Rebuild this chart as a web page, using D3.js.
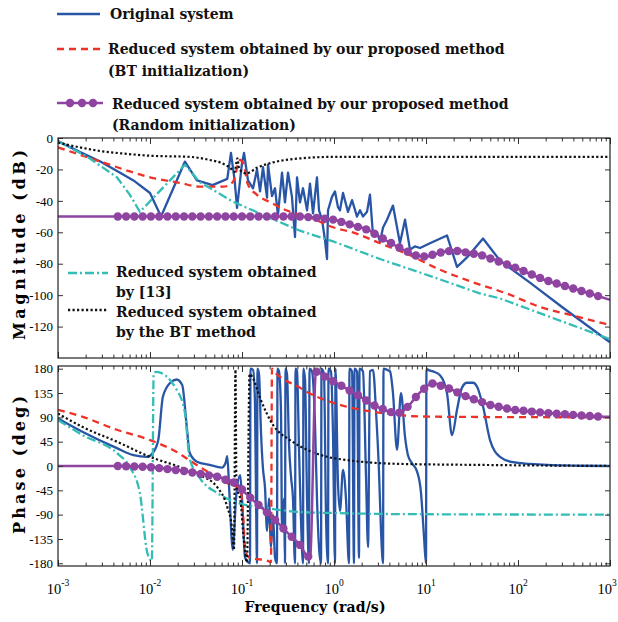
<!DOCTYPE html>
<html>
<head>
<meta charset="utf-8">
<script src="https://cdn.jsdelivr.net/npm/d3@7"></script>
<style>
  body { margin: 0; background: #fff; }
</style>
</head>
<body>
<div id="chart"></div>
<script>
// values: [log10(frequency in rad/s), value]

// magnitude (dB)
var magOriginal = [
  [-3.00,-2],[-2.76,-9],[-2.54,-15],[-2.33,-22],[-2.18,-27],[-2.00,-35],[-1.88,-50],[-1.62,-15],
  [-1.49,-27],[-1.32,-30],[-1.16,-26],[-1.12,-9.5],[-1.08,-27],[-1.054,-44.5],[-1.00,-16],[-0.978,-9.5],
  [-0.935,-27],[-0.88,-32],[-0.837,-20],[-0.804,-34],[-0.772,-18.5],[-0.728,-38],[-0.717,-17],[-0.674,-37],
  [-0.641,-32],[-0.609,-49],[-0.565,-22],[-0.533,-41],[-0.50,-22],[-0.457,-37.5],[-0.424,-63],[-0.402,-25],
  [-0.37,-41],[-0.337,-32],[-0.293,-46],[-0.261,-29],[-0.228,-48],[-0.185,-25],[-0.163,-46],[-0.13,-52],
  [-0.098,-65],[-0.076,-77],[-0.065,-46],[-0.022,-37.5],[0.011,-34],[0.043,-44],[0.065,-46],[0.098,-35],
  [0.152,-47],[0.196,-39.5],[0.25,-50],[0.283,-46],[0.315,-50],[0.359,-47],[0.391,-36],[0.424,-62],
  [0.467,-60],[0.50,-66],[0.533,-57],[0.576,-52],[0.641,-43],[0.717,-67],[0.772,-52],[0.826,-71],
  [0.88,-69],[0.935,-70],[1.043,-67],[1.228,-62],[1.337,-82],[1.446,-76],[1.62,-64],[1.804,-78],
  [2.13,-92],[2.489,-108],[3.00,-130]
];
var magOursBT = [
  [-3.00,-6],[-2.54,-15],[-2.2,-21.6],[-2.0,-25],[-1.67,-28.6],[-1.46,-31],[-1.2,-31],[-1.1,-28],
  [-1.02,-14],[-0.98,-17],[-0.94,-29],[-0.84,-36],[-0.7,-40.7],[-0.52,-46],[-0.24,-51],[-0.05,-56],
  [0.25,-61],[0.5,-67],[0.8,-74],[1.16,-84],[1.5,-91.6],[1.88,-99],[2.24,-107.5],[2.6,-113],[3.0,-119]
];
var magOursRandom = [
  [-3.0,-50],[-0.37,-50],[-0.24,-50.5],[0.0,-52],[0.2,-55.5],[0.37,-58.5],[0.5,-63],[0.75,-71],
  [0.9,-75],[1.0,-75.5],[1.15,-73],[1.3,-71.5],[1.6,-74.5],[1.95,-82],[2.3,-90.5],[2.7,-97.5],[3.0,-103]
];
var magRef13 = [
  [-3.00,-2],[-2.68,-12],[-2.36,-25],[-2.22,-36],[-2.11,-47],[-1.62,-17],[-1.46,-28],[-1.10,-40.5],
  [-0.73,-50],[-0.37,-59],[0.0,-66],[0.5,-77],[1.08,-88.5],[1.59,-99],[1.8,-102],[3.0,-128]
];
var magBT = [
  [-3.00,-3],[-2.76,-6],[-2.54,-8.3],[-2.27,-10],[-2.00,-11.3],[-1.57,-12],[-1.35,-14],[-1.22,-16],
  [-1.13,-19],[-1.08,-21.5],[-1.05,-13],[-1.03,-20],[-0.95,-22.5],[-0.84,-19],[-0.66,-15.5],[-0.37,-13],
  [0.0,-12],[3.0,-12]
];

// phase (deg)
var phOriginal = [
  [-3.00,88],[-2.73,63],[-2.36,33],[-2.18,20],[-2.03,17],[-1.97,24],[-1.91,48],[-1.86,128],[-1.78,154],
  [-1.71,160],[-1.65,150],[-1.60,72],[-1.57,25],[-1.49,8],[-1.35,2],[-1.22,-3],[-1.18,5],[-1.16,18],
  [-1.14,-40],[-1.10,-155],[-1.065,-60],[-1.02,-17],[-1.00,-60],[-0.967,-169],[-0.935,-178],[-0.913,-180],
  [-0.908,180],[-0.880,178],[-0.859,120],[-0.848,-50],[-0.837,-180],[-0.832,180],[-0.815,170],[-0.793,60],
  [-0.772,-5],[-0.750,-40],[-0.728,-120],[-0.707,-60],[-0.685,-150],[-0.663,-90],[-0.641,-170],[-0.620,-180],
  [-0.614,180],[-0.598,175],[-0.576,100],[-0.565,-120],[-0.543,-60],[-0.533,-180],[-0.527,180],[-0.511,170],
  [-0.489,40],[-0.467,-20],[-0.446,-60],[-0.424,-180],[-0.418,180],[-0.402,175],[-0.380,30],[-0.359,-100],
  [-0.337,-180],[-0.332,180],[-0.315,160],[-0.293,-60],[-0.272,-180],[-0.266,180],[-0.239,175],[-0.207,80],
  [-0.185,-60],[-0.163,-150],[-0.141,-180],[-0.136,180],[-0.109,170],[-0.087,-90],[-0.065,-180],[-0.060,180],
  [-0.033,175],[-0.011,60],[0.011,-180],[0.016,180],[0.043,-30],[0.065,-83],[0.098,-7],[0.130,-60],
  [0.163,-180],[0.168,180],[0.196,175],[0.217,-180],[0.223,180],[0.250,175],[0.272,-170],[0.277,180],
  [0.315,175],[0.348,-20],[0.370,-150],[0.391,175],[0.424,178],[0.457,100],[0.489,-10],[0.511,-120],
  [0.533,-180],[0.538,180],[0.576,178],[0.609,175],[0.641,135],[0.685,30],[0.728,135],[0.772,54],
  [0.804,20],[0.848,5],[0.902,-10],[0.946,-50],[0.978,-130],[1.000,-180],[1.005,180],[1.022,178],
  [1.076,175],[1.152,168],[1.228,135],[1.283,57],[1.337,104],[1.391,145],[1.446,154],[1.511,154],
  [1.554,147],[1.620,110],[1.696,48],[1.804,17],[1.946,7],[2.130,4],[2.315,2],[2.674,0.5],[3.000,0]
];
var phOursBT = [
  [-3.00,104],[-2.73,91],[-2.36,67],[-2.00,48],[-1.71,26],[-1.53,6],[-1.35,-13],[-1.16,-32],[-1.02,-42],
  [-0.99,-85],[-0.967,-150],[-0.946,-165],[-0.913,-170],[-0.728,-175],[-0.685,-178],[-0.674,180],[-0.652,175],
  [-0.587,165],[-0.370,145],[-0.293,137],[-0.011,117],[0.359,102],[0.685,95],[0.859,92],[1.261,91],[3.0,90]
];
var phOursRandom = [
  [-3.00,0],[-2.33,0],[-2.00,-2],[-1.64,-9],[-1.27,-20],[-1.05,-33],[-1.02,-40],[-0.913,-58],[-0.663,-96],
  [-0.478,-128],[-0.370,-146],[-0.261,-172],[-0.196,175],[-0.076,163],[0.065,150],[0.250,132],[0.424,113],
  [0.609,100],[0.696,97],[0.793,108],[0.902,130],[1.011,148],[1.076,153],[1.228,145],[1.446,128],[1.696,113],
  [1.946,104],[2.315,98],[2.815,92],[3.0,91]
];
var phRef13 = [
  [-3.00,85],[-2.73,57],[-2.36,24],[-2.22,-2],[-2.11,-50],[-2.03,-160],[-1.98,-176],[-1.96,172],[-1.93,174],
  [-1.71,141],[-1.62,98],[-1.57,15],[-1.46,-22],[-1.27,-50],[-1.05,-68],[-0.73,-78],[-0.37,-85],[0.0,-87],
  [0.72,-89],[3.0,-90]
];
var phBT = [
  [-3.00,97],[-2.73,72],[-2.36,45],[-2.00,17],[-1.64,-4],[-1.46,-17],[-1.27,-39],[-1.16,-76],[-1.11,-113],
  [-1.087,-155],[-1.071,178],[-1.060,-40],[-1.02,-60],[-0.978,-140],[-0.946,-178],[-0.918,170],[-0.880,162],
  [-0.804,126],[-0.663,76],[-0.478,48],[-0.293,30],[-0.076,17],[0.141,11],[0.424,6],[0.685,4],[1.587,2],[3.0,0]
];

// axis ticks and labels
var decades = [-3, -2, -1, 0, 1, 2, 3];
var magTicks = [0, -20, -40, -60, -80, -100, -120];
var phTicks = [180, 135, 90, 45, 0, -45, -90, -135, -180];

var legendTop = ["Original system",
  "Reduced system obtained by our proposed method", "(BT initialization)",
  "Reduced system obtained by our proposed method", "(Random initialization)"];
var legendInner = ["Reduced system obtained", "by [13]", "Reduced system obtained", "by the BT method"];

window.onload = function () {
  var width = 618, height = 622;
  var left = 58, right = 610;

  var svg = d3.select("#chart").append("svg")
    .attr("width", width)
    .attr("height", height)
    .style("font-family", "'Liberation Serif', serif");

  var x = d3.scaleLog().domain([1e-3, 1e3]).range([left, right]);
  var yMag = d3.scaleLinear().domain([-140, 0]).range([358, 138]);
  var yPh = d3.scaleLinear().domain([-185, 185]).range([566, 366]);

  var colBlue = "#2855a5", colRed = "#ef3228", colPurple = "#8e44a0", colCyan = "#33bdb6", colBlack = "#111";

  var st = {
    orig:   { color: colBlue,   w: 2.3, dash: null },
    bt:     { color: colRed,    w: 2.3, dash: "7,5" },
    rand:   { color: colPurple, w: 2.5, dash: null },
    ref13:  { color: colCyan,   w: 2.3, dash: "9,3,2,3" },
    btm:    { color: colBlack,  w: 2.2, dash: "2.2,2.3" }
  };

  function fx(d) { return x(Math.pow(10, d[0])); }

  // clip regions for the two panels
  var defs = svg.append("defs");
  defs.append("clipPath").attr("id", "clipMag").append("rect")
    .attr("x", left).attr("y", yMag(0)).attr("width", right - left).attr("height", yMag(-140) - yMag(0));
  defs.append("clipPath").attr("id", "clipPh").append("rect")
    .attr("x", left).attr("y", yPh(185)).attr("width", right - left).attr("height", yPh(-185) - yPh(185));

  function plotLine(g, data, y, s, curve) {
    g.append("path")
      .datum(data)
      .attr("d", d3.line().curve(curve).x(fx).y(function (d) { return y(d[1]); }))
      .attr("fill", "none")
      .attr("stroke", s.color)
      .attr("stroke-width", s.w)
      .attr("stroke-dasharray", s.dash)
      .attr("stroke-linejoin", "round");
  }

  // purple markers at equal steps in log frequency
  function plotMarkers(g, data, y) {
    var bis = d3.bisector(function (d) { return d[0]; }).left;
    d3.range(-2.35, 2.9, 0.09).forEach(function (lw) {
      var i = Math.max(1, bis(data, lw));
      var a = data[i - 1], b = data[i];
      if (Math.abs(b[1] - a[1]) > 150) return;   // skip the wrap line
      var t = (lw - a[0]) / (b[0] - a[0]);
      var v = a[1] + t * (b[1] - a[1]);
      g.append("circle")
        .attr("cx", x(Math.pow(10, lw)))
        .attr("cy", y(v))
        .attr("r", 4.2)
        .attr("fill", colPurple);
    });
  }

  function frame(y, yTicks, showX) {
    var top = y.range()[1], bottom = y.range()[0];
    var g = svg.append("g");
    var all = x.ticks();
    var majors = all.filter(function (v) { var l = Math.log10(v); return Math.abs(l - Math.round(l)) < 1e-6; });
    var minors = all.filter(function (v) { var l = Math.log10(v); return Math.abs(l - Math.round(l)) >= 1e-6; });
    var none = function () { return ""; };

    g.append("g").attr("transform", "translate(0," + bottom + ")")
      .call(d3.axisBottom(x).tickValues(majors).tickSizeInner(-6).tickSizeOuter(0).tickFormat(none));
    g.append("g").attr("transform", "translate(0," + bottom + ")")
      .call(d3.axisBottom(x).tickValues(minors).tickSizeInner(-3.5).tickSizeOuter(0).tickFormat(none));
    g.append("g").attr("transform", "translate(0," + top + ")")
      .call(d3.axisTop(x).tickValues(majors).tickSizeInner(-6).tickSizeOuter(0).tickFormat(none));
    g.append("g").attr("transform", "translate(0," + top + ")")
      .call(d3.axisTop(x).tickValues(minors).tickSizeInner(-3.5).tickSizeOuter(0).tickFormat(none));

    g.append("g").attr("transform", "translate(" + left + ",0)")
      .call(d3.axisLeft(y).tickValues(yTicks).tickSizeInner(-5).tickSizeOuter(0).tickPadding(5)
        .tickFormat(function (d) { return d < 0 ? "-" + Math.abs(d) : d; }))
      .selectAll("text").attr("font-size", 13).attr("fill", "#000")
      .attr("font-family", "'Liberation Serif', serif");
    g.append("g").attr("transform", "translate(" + right + ",0)")
      .call(d3.axisRight(y).tickValues(yTicks).tickSizeInner(-5).tickSizeOuter(0).tickFormat(none));

    g.selectAll(".domain").remove();
    g.selectAll(".tick line").attr("stroke", "#333");

    g.append("rect")
      .attr("x", left).attr("y", top)
      .attr("width", right - left).attr("height", bottom - top)
      .attr("fill", "none").attr("stroke", "#222").attr("stroke-width", 1.2);

    if (showX) {
      var lab = g.append("g").selectAll("text").data(decades).enter().append("text")
        .attr("x", function (d, i) { return x(Math.pow(10, d)) - (i === decades.length - 1 ? 3 : 0); })
        .attr("y", bottom + 28)
        .attr("text-anchor", "middle")
        .attr("font-size", 14.5)
        .attr("fill", "#000");
      lab.append("tspan").text("10");
      lab.append("tspan").attr("dy", -8).attr("font-size", 9.5).text(function (d) { return d; });
    }
  }

  // magnitude panel
  var gm = svg.append("g").attr("clip-path", "url(#clipMag)");
  plotLine(gm, magOriginal, yMag, st.orig, d3.curveLinear);
  plotLine(gm, magOursBT, yMag, st.bt, d3.curveMonotoneX);
  plotLine(gm, magRef13, yMag, st.ref13, d3.curveLinear);
  plotLine(gm, magBT, yMag, st.btm, d3.curveMonotoneX);
  plotLine(gm, magOursRandom, yMag, st.rand, d3.curveMonotoneX);
  plotMarkers(gm, magOursRandom, yMag);
  frame(yMag, magTicks, false);

  // phase panel
  var gp = svg.append("g").attr("clip-path", "url(#clipPh)");
  plotLine(gp, phOriginal, yPh, st.orig, d3.curveMonotoneX);
  plotLine(gp, phOursBT, yPh, st.bt, d3.curveMonotoneX);
  plotLine(gp, phRef13, yPh, st.ref13, d3.curveMonotoneX);
  plotLine(gp, phBT, yPh, st.btm, d3.curveMonotoneX);
  plotLine(gp, phOursRandom, yPh, st.rand, d3.curveMonotoneX);
  plotMarkers(gp, phOursRandom, yPh);
  frame(yPh, phTicks, true);

  // axis titles
  var bold = "'DejaVu Serif', serif";
  svg.append("text").attr("transform", "translate(25,245) rotate(-90)")
    .attr("text-anchor", "middle").attr("font-family", bold).attr("font-weight", "bold")
    .attr("font-size", 16).attr("textLength", 190).attr("lengthAdjust", "spacing")
    .text("Magnitude (dB)");
  svg.append("text").attr("transform", "translate(25,465) rotate(-90)")
    .attr("text-anchor", "middle").attr("font-family", bold).attr("font-weight", "bold")
    .attr("font-size", 16).attr("textLength", 138).attr("lengthAdjust", "spacing")
    .text("Phase (deg)");
  svg.append("text").attr("x", 315).attr("y", 612)
    .attr("text-anchor", "middle").attr("font-family", bold).attr("font-weight", "bold")
    .attr("font-size", 14).attr("textLength", 141).attr("lengthAdjust", "spacing")
    .text("Frequency (rad/s)");

  // top legend
  var lg = svg.append("g").attr("font-family", bold).attr("font-weight", "bold").attr("font-size", 14).attr("fill", "#111");
  lg.append("line").attr("x1", 57).attr("x2", 100).attr("y1", 14).attr("y2", 14)
    .attr("stroke", colBlue).attr("stroke-width", 2.6);
  lg.append("text").attr("x", 110).attr("y", 19).text(legendTop[0]);
  lg.append("line").attr("x1", 57).attr("x2", 100).attr("y1", 49).attr("y2", 49)
    .attr("stroke", colRed).attr("stroke-width", 2.6).attr("stroke-dasharray", "7,5");
  lg.append("text").attr("x", 108).attr("y", 54).text(legendTop[1]);
  lg.append("text").attr("x", 108).attr("y", 76).text(legendTop[2]);
  lg.append("line").attr("x1", 57).attr("x2", 103).attr("y1", 103).attr("y2", 103)
    .attr("stroke", colPurple).attr("stroke-width", 2.6);
  lg.selectAll("circle.lm").data([70, 82, 93]).enter().append("circle")
    .attr("cx", function (d) { return d; }).attr("cy", 103).attr("r", 4.2).attr("fill", colPurple);
  lg.append("text").attr("x", 112).attr("y", 109).text(legendTop[3]);
  lg.append("text").attr("x", 112).attr("y", 130).text(legendTop[4]);

  // legend inside magnitude panel
  var li = svg.append("g").attr("font-family", bold).attr("font-weight", "bold").attr("font-size", 14).attr("fill", "#111");
  li.append("line").attr("x1", 68).attr("x2", 108).attr("y1", 273).attr("y2", 273)
    .attr("stroke", colCyan).attr("stroke-width", 2.6).attr("stroke-dasharray", "9,3,2,3");
  li.append("text").attr("x", 116).attr("y", 277).text(legendInner[0]);
  li.append("text").attr("x", 116).attr("y", 297).text(legendInner[1]);
  li.append("line").attr("x1", 68).attr("x2", 108).attr("y1", 310).attr("y2", 310)
    .attr("stroke", colBlack).attr("stroke-width", 2.4).attr("stroke-dasharray", "2.2,2.3");
  li.append("text").attr("x", 116).attr("y", 317).text(legendInner[2]);
  li.append("text").attr("x", 116).attr("y", 337).text(legendInner[3]);
};
</script>
</body>
</html>
